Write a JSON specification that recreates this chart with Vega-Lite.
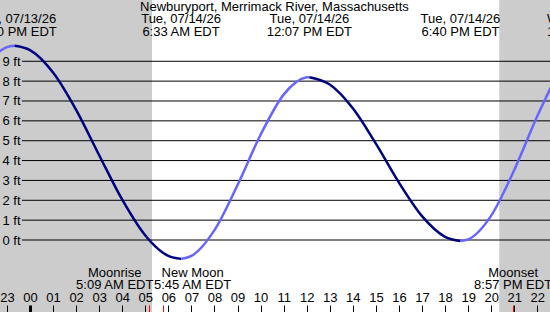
{
  "$schema": "https://vega.github.io/schema/vega-lite/v6.json",
  "width": 550,
  "height": 312,
  "autosize": {"type": "none"},
  "padding": 0,
  "background": "white",
  "config": {
    "view": {"stroke": null},
    "text": {"font": "Liberation Sans", "fontSize": 13, "color": "black"},
    "axis": {"labelFont": "Liberation Sans", "labelFontSize": 13, "labelColor": "black", "grid": false, "domain": false}
  },
  "resolve": {"axis": {"x": "independent", "y": "independent"}},
  "datasets": {
    "night": [
      {"from": -1.301, "to": 5.29},
      {"from": 20.35, "to": 22.55}
    ],
    "levels": [
      {"ft": 0}, {"ft": 1}, {"ft": 2}, {"ft": 3}, {"ft": 4},
      {"ft": 5}, {"ft": 6}, {"ft": 7}, {"ft": 8}, {"ft": 9}
    ],
    "tide": [
      {"t": -1.35, "ft": 9.48, "seg": "a", "dir": "rising"},
      {"t": -1.0, "ft": 9.71, "seg": "a", "dir": "rising"},
      {"t": -0.667, "ft": 9.78, "seg": "a", "dir": "rising"},
      {"t": -0.667, "ft": 9.78, "seg": "b", "dir": "falling"},
      {"t": 0, "ft": 9.56, "seg": "b", "dir": "falling"},
      {"t": 1, "ft": 8.43, "seg": "b", "dir": "falling"},
      {"t": 2, "ft": 6.55, "seg": "b", "dir": "falling"},
      {"t": 3, "ft": 4.27, "seg": "b", "dir": "falling"},
      {"t": 4, "ft": 2.03, "seg": "b", "dir": "falling"},
      {"t": 5, "ft": 0.23, "seg": "b", "dir": "falling"},
      {"t": 6, "ft": -0.8, "seg": "b", "dir": "falling"},
      {"t": 6.55, "ft": -0.95, "seg": "b", "dir": "falling"},
      {"t": 6.55, "ft": -0.95, "seg": "c", "dir": "rising"},
      {"t": 7, "ft": -0.8, "seg": "c", "dir": "rising"},
      {"t": 8, "ft": 0.5, "seg": "c", "dir": "rising"},
      {"t": 9, "ft": 2.77, "seg": "c", "dir": "rising"},
      {"t": 10, "ft": 5.3, "seg": "c", "dir": "rising"},
      {"t": 11, "ft": 7.32, "seg": "c", "dir": "rising"},
      {"t": 12, "ft": 8.19, "seg": "c", "dir": "rising"},
      {"t": 12.117, "ft": 8.2, "seg": "c", "dir": "rising"},
      {"t": 12.117, "ft": 8.2, "seg": "d", "dir": "falling"},
      {"t": 13, "ft": 7.83, "seg": "d", "dir": "falling"},
      {"t": 14, "ft": 6.63, "seg": "d", "dir": "falling"},
      {"t": 15, "ft": 4.85, "seg": "d", "dir": "falling"},
      {"t": 16, "ft": 2.89, "seg": "d", "dir": "falling"},
      {"t": 17, "ft": 1.2, "seg": "d", "dir": "falling"},
      {"t": 18, "ft": 0.16, "seg": "d", "dir": "falling"},
      {"t": 18.667, "ft": -0.05, "seg": "d", "dir": "falling"},
      {"t": 18.667, "ft": -0.05, "seg": "e", "dir": "rising"},
      {"t": 19, "ft": 0.03, "seg": "e", "dir": "rising"},
      {"t": 20, "ft": 1.23, "seg": "e", "dir": "rising"},
      {"t": 21, "ft": 3.53, "seg": "e", "dir": "rising"},
      {"t": 22, "ft": 6.24, "seg": "e", "dir": "rising"},
      {"t": 22.6, "ft": 7.72, "seg": "e", "dir": "rising"}
    ],
    "extremes": [
      {"t": -0.667, "label": "Mon, 07/13/26\n11:20 PM EDT"},
      {"t": 6.55, "label": "Tue, 07/14/26\n6:33 AM EDT"},
      {"t": 12.117, "label": "Tue, 07/14/26\n12:07 PM EDT"},
      {"t": 18.667, "label": "Tue, 07/14/26\n6:40 PM EDT"},
      {"t": 24.25, "label": "Wed, 07/15/26\n12:15 AM EDT"}
    ],
    "moon": [
      {"t": 5.15, "event": "rise", "label": "Moonrise\n5:09 AM EDT"},
      {"t": 5.75, "event": "phase", "label": "New Moon\n5:45 AM EDT"},
      {"t": 20.95, "event": "set", "label": "Moonset\n8:57 PM EDT"}
    ]
  },
  "layer": [
    {
      "data": {"name": "night"},
      "mark": {"type": "rect", "color": "#cccccc"},
      "encoding": {
        "x": {
          "field": "from", "type": "quantitative",
          "scale": {"domain": [-1.301, 22.55], "nice": false, "zero": false},
          "axis": null
        },
        "x2": {"field": "to"}
      }
    },
    {
      "data": {"name": "levels"},
      "mark": {"type": "rule", "color": "black", "strokeWidth": 1},
      "encoding": {
        "y": {
          "field": "ft", "type": "quantitative",
          "scale": {"domain": [-3.625, 12.085], "nice": false, "zero": false},
          "axis": {
            "orient": "left",
            "offset": -22,
            "zindex": 1,
            "title": null,
            "ticks": false,
            "values": [0, 1, 2, 3, 4, 5, 6, 7, 8, 9],
            "labelExpr": "datum.value + ' ft'",
            "labelPadding": 2,
            "labelBaseline": "middle",
            "labelFlush": false,
            "labelOverlap": false
          }
        },
        "x": {"datum": -0.35, "type": "quantitative", "axis": null},
        "x2": {"datum": 22.55}
      }
    },
    {
      "data": {"name": "tide"},
      "mark": {"type": "line", "interpolate": "monotone", "strokeWidth": 2.5, "clip": true},
      "encoding": {
        "x": {
          "field": "t", "type": "quantitative",
          "axis": {
            "orient": "top",
            "offset": -312,
            "zindex": 1,
            "title": null,
            "values": [-1, 0, 1, 2, 3, 4, 5, 5.15, 5.75, 6, 7, 8, 9, 10, 11, 12, 13, 14, 15, 16, 17, 18, 19, 20, 20.95, 21, 22],
            "labelExpr": "datum.value % 1 !== 0 ? '' : (datum.value < 0 ? '23' : (datum.value < 10 ? '0' + datum.value : '' + datum.value))",
            "tickSize": 7,
            "tickColor": {"condition": {"test": "datum.value % 1 !== 0", "value": "#ff0000"}, "value": "black"},
            "tickWidth": {"condition": {"test": "datum.value === 0", "value": 3}, "value": 1},
            "labelBaseline": "alphabetic",
            "labelPadding": 4,
            "labelFlush": false,
            "labelOverlap": false
          }
        },
        "y": {"field": "ft", "type": "quantitative", "axis": null},
        "detail": {"field": "seg"},
        "color": {
          "field": "dir", "type": "nominal",
          "scale": {"domain": ["falling", "rising"], "range": ["#000080", "#6666ff"]},
          "legend": null
        }
      }
    },
    {
      "data": {"values": [{"name": "Newburyport, Merrimack River, Massachusetts"}]},
      "mark": {"type": "text", "align": "center", "baseline": "alphabetic"},
      "encoding": {
        "x": {"datum": 10.6, "type": "quantitative", "axis": null},
        "y": {"datum": 11.55, "type": "quantitative", "axis": null},
        "text": {"field": "name"}
      }
    },
    {
      "data": {"name": "extremes"},
      "mark": {"type": "text", "align": "center", "baseline": "alphabetic", "lineBreak": "\n", "lineHeight": 13.5},
      "encoding": {
        "x": {"field": "t", "type": "quantitative", "axis": null},
        "y": {"datum": 10.95, "type": "quantitative", "axis": null},
        "text": {"field": "label"}
      }
    },
    {
      "data": {"name": "moon"},
      "transform": [{"filter": "datum.event === 'rise'"}],
      "mark": {"type": "text", "align": "center", "dx": -34, "baseline": "alphabetic", "lineBreak": "\n", "lineHeight": 12},
      "encoding": {
        "x": {"field": "t", "type": "quantitative", "axis": null},
        "y": {"datum": -1.878, "type": "quantitative", "axis": null},
        "text": {"field": "label"}
      }
    },
    {
      "data": {"name": "moon"},
      "transform": [{"filter": "datum.event === 'phase'"}],
      "mark": {"type": "text", "align": "center", "dx": 30, "baseline": "alphabetic", "lineBreak": "\n", "lineHeight": 12},
      "encoding": {
        "x": {"field": "t", "type": "quantitative", "axis": null},
        "y": {"datum": -1.878, "type": "quantitative", "axis": null},
        "text": {"field": "label"}
      }
    },
    {
      "data": {"name": "moon"},
      "transform": [{"filter": "datum.event === 'set'"}],
      "mark": {"type": "text", "align": "center", "baseline": "alphabetic", "lineBreak": "\n", "lineHeight": 12},
      "encoding": {
        "x": {"field": "t", "type": "quantitative", "axis": null},
        "y": {"datum": -1.878, "type": "quantitative", "axis": null},
        "text": {"field": "label"}
      }
    }
  ]
}
